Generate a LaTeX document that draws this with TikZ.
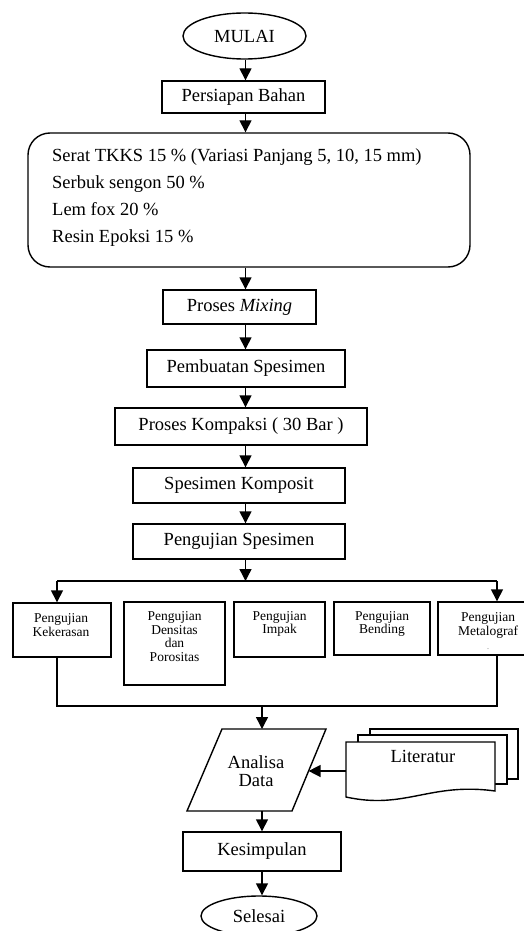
\documentclass[tikz,border=0pt]{standalone}
\usepackage{fontspec}
\setmainfont{Liberation Serif}
\usetikzlibrary{arrows.meta,shapes.geometric}

\tikzset{
  every picture/.style={x=1pt,y=-1pt},
  box/.style={draw,line width=1.4pt,rectangle,inner sep=0pt,fill=white},
  oval/.style={draw,line width=1.4pt,ellipse,inner sep=0pt},
  bigtxt/.style={font=\fontsize{18.5}{20}\selectfont,inner sep=0pt},
  smalltxt/.style={font=\fontsize{13.5}{13.6}\selectfont,inner sep=0pt,align=center},
  arr/.style={line width=1.4pt,-{Triangle[width=12pt,length=12pt]}},
  wire/.style={line width=1.4pt},
  sheet/.style={draw,line width=1.4pt,fill=white}
}

\begin{document}
\begin{tikzpicture}
\useasboundingbox (0,0) rectangle (524,931);

% main column of steps
\node[oval,minimum width=123pt,minimum height=46pt,bigtxt] (mulai) at (244.5,36) {MULAI};
\node[box,minimum width=163pt,minimum height=32pt,bigtxt] (persiapan) at (243.5,97) {Persiapan Bahan};
\node[box,rounded corners=22pt,minimum width=442pt,minimum height=134pt] (bahan) at (249,200) {};
\node[bigtxt,anchor=west,align=left,font=\fontsize{18.5}{27}\selectfont] (komposisi) at (52,197.5)
  {Serat TKKS 15 \% (Variasi Panjang 5, 10, 15 mm)\\
   Serbuk sengon 50 \%\\
   Lem fox 20 \%\\
   Resin Epoksi 15 \%};
\node[box,minimum width=153pt,minimum height=34pt,bigtxt] (mixing) at (239.5,307) {Proses \textit{Mixing}};
\node[box,minimum width=198pt,minimum height=37pt,bigtxt] (pembuatan) at (246,368.5) {Pembuatan Spesimen};
\node[box,minimum width=252pt,minimum height=37pt,bigtxt] (kompaksi) at (241,426.5) {Proses Kompaksi ( 30 Bar )};
\node[box,minimum width=212pt,minimum height=35pt,bigtxt] (komposit) at (239,485.5) {Spesimen Komposit};
\node[box,minimum width=212pt,minimum height=35pt,bigtxt] (pengujian) at (239,541.5) {Pengujian Spesimen};

% spine of the main column
\coordinate (spine) at (245.5,0);
\draw[arr] (mulai.south -| spine) -- (persiapan.north -| spine);
\draw[arr] (persiapan.south -| spine) -- (bahan.north -| spine);
\draw[arr] (bahan.south -| spine) -- (mixing.north -| spine);
\draw[arr] (mixing.south -| spine) -- (pembuatan.north -| spine);
\draw[arr] (pembuatan.south -| spine) -- (kompaksi.north -| spine);
\draw[arr] (kompaksi.south -| spine) -- (komposit.north -| spine);
\draw[arr] (komposit.south -| spine) -- (pengujian.north -| spine);

% row of tests
\node[box,minimum width=98pt,minimum height=54pt] (kekerasan) at (62,630) {};
\node[smalltxt] (kekerasanT) at (61,625) {Pengujian\\Kekerasan};
\node[box,minimum width=101pt,minimum height=83pt] (densitas) at (174.5,643.5) {};
\node[smalltxt] (densitasT) at (174.5,636.5) {Pengujian\\Densitas\\dan\\Porositas};
\node[box,minimum width=91pt,minimum height=55pt] (impak) at (279.5,629.5) {};
\node[smalltxt] (impakT) at (279.5,624) {Pengujian\\Impak};
\node[box,minimum width=96pt,minimum height=53pt] (bending) at (382,628.5) {};
\node[smalltxt] (bendingT) at (382,624) {Pengujian\\Bending};
\node[box,minimum width=90pt,minimum height=53pt] (metalograf) at (483,628.5) {};
\node[smalltxt] (metalografT) at (488,631) {Pengujian\\Metalograf\\{\fontsize{6}{6}\selectfont .}};

% branching to the tests
\coordinate (split) at (245.5,581);
\coordinate (leftx) at (57,0);
\coordinate (rightx) at (497,0);
\draw[arr] (pengujian.south -| spine) -- (split);
\draw[wire] (split -| leftx) -- (split -| rightx);
\draw[arr] (split -| leftx) -- (kekerasan.north -| leftx);
\draw[arr] (split -| rightx) -- (metalograf.north -| rightx);

% joining the results
\coordinate (join) at (262,706);
\coordinate (lowspine) at (262,0);
\draw[wire] (kekerasan.south -| leftx) |- (join) -| (metalograf.south -| rightx);

% data analysis
\coordinate (anTL) at (222,729);
\coordinate (anTR) at (326,729);
\coordinate (anBR) at (292,811);
\coordinate (anBL) at (187,811);
\draw[line width=1.4pt] (anTL) -- (anTR) -- (anBR) -- (anBL) -- cycle;
\node[bigtxt,align=center,font=\fontsize{18.5}{18}\selectfont] (analisa) at (256,771) {Analisa\\Data};
\coordinate (anIn) at (308.6,771);
\draw[arr] (join) -- (anTL -| lowspine);

% stack of references
\draw[sheet] (370,729) rectangle (518,779);
\draw[sheet] (358,735) rectangle (507,784);
\draw[sheet] (346,742) -- (495,742) -- (495,791)
  .. controls (430,782) and (405,810) .. (346,797) -- cycle;
\node[bigtxt] (literatur) at (423,756) {Literatur};
\coordinate (litIn) at (346,771);
\draw[arr] (litIn) -- (anIn);

% conclusion and end
\node[box,minimum width=158pt,minimum height=39pt,bigtxt] (kesimpulan) at (262,851.5) {Kesimpulan};
\node[oval,minimum width=116pt,minimum height=40pt,bigtxt] (selesai) at (259,916) {Selesai};
\draw[arr] (anBL -| lowspine) -- (kesimpulan.north -| lowspine);
\draw[arr] (kesimpulan.south -| lowspine) -- (selesai.north -| lowspine);
\end{tikzpicture}
\end{document}
